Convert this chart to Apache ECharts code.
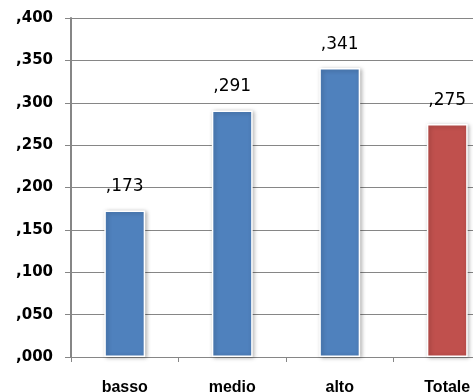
<!DOCTYPE html>
<html>
<head>
<meta charset="utf-8">
<script src="https://cdn.jsdelivr.net/npm/echarts@6/dist/echarts.min.js"></script>
<style>
  html, body { margin: 0; padding: 0; background: #fff; }
  #chart { width: 473px; height: 392px; }
</style>
</head>
<body>
<div id="chart"></div>
<script>
// Livello (categories) and their mean values
var categories = ['basso', 'medio', 'alto', 'Totale'];
var values = [0.173, 0.291, 0.341, 0.275];
var barColors = ['#4F81BD', '#4F81BD', '#4F81BD', '#C0504D'];

// Italian style decimals without leading zero: 0.173 -> ",173"
function fmt(v) {
  return ',' + Number(v).toFixed(3).split('.')[1];
}

var chart = echarts.init(document.getElementById('chart'));
chart.setOption({
  animation: false,
  grid: { left: 71, top: 18, right: -28, bottom: 35, outerBoundsMode: 'none', containLabel: false },
  xAxis: {
    type: 'category',
    data: categories,
    axisLine: { lineStyle: { color: '#868686', width: 1 } },
    axisTick: { show: true, alignWithLabel: false, length: 5, lineStyle: { color: '#868686' } },
    axisLabel: {
      color: '#000', fontFamily: 'Liberation Sans', fontWeight: 'bold', fontSize: 16, margin: 23
    }
  },
  yAxis: {
    type: 'value',
    min: 0, max: 0.4, interval: 0.05,
    axisLine: { show: true, lineStyle: { color: '#868686', width: 2 } },
    axisTick: { show: true, length: 6, lineStyle: { color: '#868686' } },
    splitLine: { lineStyle: { color: '#868686', width: 1 } },
    axisLabel: {
      color: '#000', fontFamily: 'DejaVu Sans', fontWeight: 'bold', fontSize: 15, margin: 18,
      formatter: fmt
    }
  },
  series: [{
    type: 'bar',
    data: values.map(function (v, i) {
      return { value: v, itemStyle: { color: barColors[i] } };
    }),
    barWidth: '38%',
    itemStyle: {
      borderColor: '#fff', borderWidth: 1.5,
      shadowBlur: 4, shadowColor: 'rgba(0,0,0,0.3)', shadowOffsetX: 1.5, shadowOffsetY: 1
    },
    label: {
      show: true, position: 'top', distance: 15,
      color: '#000', fontFamily: 'DejaVu Sans', fontSize: 17,
      formatter: function (p) { return fmt(p.value); }
    }
  }]
});
</script>
</body>
</html>
